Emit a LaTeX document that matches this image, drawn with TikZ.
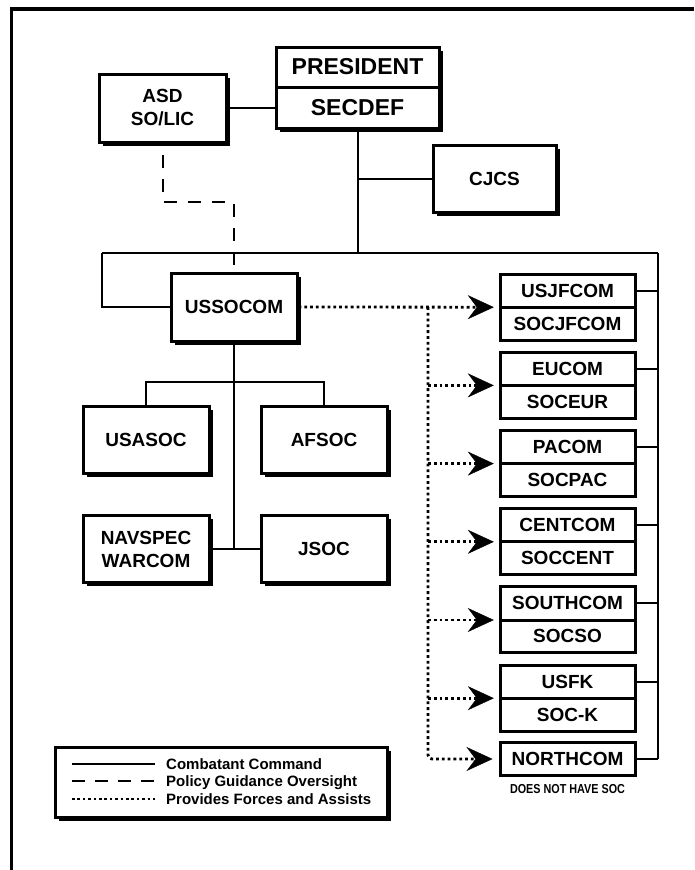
\documentclass[tikz,border=0pt]{standalone}
\usepackage{fontspec}
\setmainfont{Liberation Sans}
\usetikzlibrary{arrows.meta,shadows}
\begin{document}
\begin{tikzpicture}[x=1pt,y=-1pt,
  boxbase/.style={draw=black, line width=3pt, fill=white, inner sep=0pt, align=center},
  shbox/.style={boxbase, drop shadow={shadow xshift=3.5pt, shadow yshift=-3.5pt, fill=black, opacity=1}},
  rbox/.style={boxbase, line width=3pt},
  lbl/.style={inner sep=0pt, align=center, font=\fontsize{19}{23}\selectfont\bfseries},
  biglbl/.style={inner sep=0pt, align=center, font=\fontsize{23}{27}\selectfont\bfseries},
  leglbl/.style={inner sep=0pt, anchor=base west, font=\fontsize{15}{17}\selectfont\bfseries},
  cmd/.style={line width=2pt, draw=black},
  pol/.style={line width=2pt, dash pattern=on 13pt off 11pt},
  polleg/.style={line width=2.4pt, dash pattern=on 13pt off 10pt},
  frc/.style={line width=2.8pt, dash pattern=on 2.8pt off 3pt},
  frcleg/.style={line width=2.4pt, dash pattern=on 2.6pt off 2.8pt},
  tip/.style={-{Stealth[length=26pt,width=24pt,inset=9pt,line width=0.4pt]}}
]
\useasboundingbox (0,0) rectangle (694,870);

% frame
\draw[line width=3.5pt] (11.5,870) -- (11.5,9) -- (694,9);

% top
\node[shbox, minimum width=163pt, minimum height=81pt] (presbox) at (357.5,87.5) {};
\node[biglbl, minimum width=163pt, minimum height=40pt] (pres) at (357.5,67) {PRESIDENT};
\node[biglbl, minimum width=163pt, minimum height=41pt] (secdef) at (357.5,107.5) {SECDEF};
\draw[line width=3pt] (pres.south west) -- (pres.south east);

\node[shbox, lbl, minimum width=127pt, minimum height=68pt] (asd) at (162.5,108) {ASD\\SO/LIC};
\node[shbox, lbl, minimum width=123pt, minimum height=67pt] (cjcs) at (494.5,179) {CJCS};
\node[shbox, lbl, minimum width=126pt, minimum height=68pt] (ussocom) at (234,307) {USSOCOM};
\node[shbox, lbl, minimum width=126pt, minimum height=67pt] (usasoc) at (146,439.5) {USASOC};
\node[shbox, lbl, minimum width=126pt, minimum height=67pt] (afsoc) at (324,439.5) {AFSOC};
\node[shbox, lbl, minimum width=126pt, minimum height=67pt] (navspec) at (146,549) {NAVSPEC\\WARCOM};
\node[shbox, lbl, minimum width=126pt, minimum height=67pt] (jsoc) at (324,549) {JSOC};

% coordinates
\coordinate (lb) at (102,253);
\coordinate (rb) at (658,253);
\coordinate (dj) at (428,307);
\coordinate (ds) at (162.5,155);
\coordinate (dm) at (234,202);
\coordinate (de) at (234,265);

% right column
\foreach \ta/\tb/\nm [count=\i from 0] in {USJFCOM/SOCJFCOM/jf, EUCOM/SOCEUR/eu, PACOM/SOCPAC/pa, CENTCOM/SOCCENT/ce, SOUTHCOM/SOCSO/so, USFK/SOC-K/fk} {
  \pgfmathsetmacro\dy{307+78.2*\i}
  \node[rbox, minimum width=135pt, minimum height=66pt] (\nm box) at (567.5,\dy) {};
  \node[lbl, minimum width=135pt, minimum height=33pt] (\nm t) at (567.5,\dy-16.5) {\ta};
  \node[lbl, minimum width=135pt, minimum height=33pt] (\nm b) at (567.5,\dy+16.5) {\tb};
  \draw[line width=3pt] (\nm t.south west) -- (\nm t.south east);
  \draw[cmd] (\nm t.east) -- (\nm t.east -| rb);
  \ifnum\i>0
    \draw[frc,tip] (dj |- \nm t.south west) -- ([xshift=-6pt]\nm t.south west);
  \fi
}
\node[rbox, lbl, minimum width=135pt, minimum height=33pt] (north) at (567.5,759) {NORTHCOM};
\node[inner sep=0pt, font=\fontsize{13}{15}\selectfont\bfseries] (nosoc) at (567.5,789) {\scalebox{0.83}[1]{DOES NOT HAVE SOC}};
\draw[cmd] (north.east) -- (north.east -| rb);

% solid connectors
\draw[cmd] (asd.east) -- (asd.east -| presbox.west);
\draw[cmd] (presbox.south) -- (presbox.south |- lb);
\draw[cmd] (presbox.south |- cjcs.west) -- (cjcs.west);
\draw[cmd] (lb) -- (rb);
\draw[cmd] (lb) |- (ussocom.west);
\draw[cmd] (rb) -- (rb |- north.east);
\draw[cmd] (ussocom.south) -- (ussocom.south |- navspec.east);
\draw[cmd] (navspec.east) -- (jsoc.west);
\draw[cmd] (usasoc.north) -- ++(0,-23) -| (afsoc.north);

% dashed policy line
\draw[pol] (ds) |- (dm) -- (de);

% dotted force lines
\draw[frc,tip] (ussocom.east) -- ([xshift=-6pt]jft.south west);
\draw[frc,tip,rounded corners=4pt] (dj) |- ([xshift=-6pt]north.west);

% legend
\node[shbox, minimum width=332pt, minimum height=70pt] (legend) at (221,782) {};
\node[leglbl] (lg1) at (166,769.5) {Combatant Command};
\node[leglbl] (lg2) at (166,786.5) {Policy Guidance Oversight};
\node[leglbl] (lg3) at (166,804.5) {Provides Forces and Assists};
\coordinate (l1a) at (72,764); \coordinate (l1b) at (155,764);
\coordinate (l2a) at (72,781); \coordinate (l2b) at (155,781);
\coordinate (l3a) at (72,799); \coordinate (l3b) at (155,799);
\draw[line width=2.4pt] (l1a) -- (l1b);
\draw[polleg] (l2a) -- (l2b);
\draw[frcleg] (l3a) -- (l3b);
\end{tikzpicture}
\end{document}
